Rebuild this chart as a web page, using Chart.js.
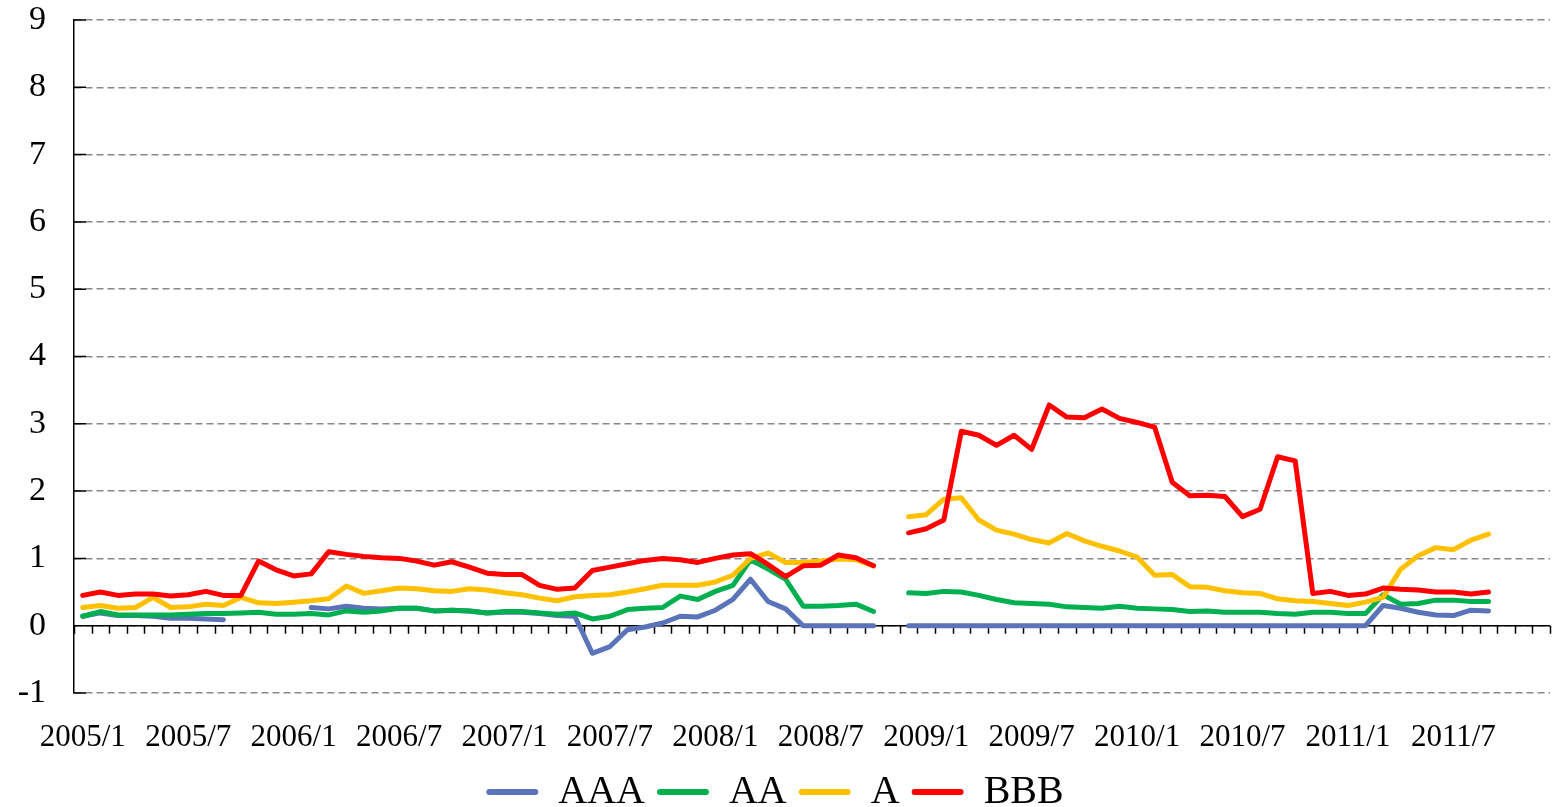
<!DOCTYPE html>
<html>
<head>
<meta charset="utf-8">
<script src="https://cdn.jsdelivr.net/npm/chart.js@4.4.1/dist/chart.umd.min.js"></script>
<style>
  html, body { margin: 0; padding: 0; background: #fff; }
  #wrap { width: 1552px; height: 807px; position: relative; }
</style>
</head>
<body>
<div id="wrap"><canvas id="spreadChart"></canvas></div>
<script>
const years = [2005, 2006, 2007, 2008, 2009, 2010, 2011];
const months = [];
years.forEach((y) => {
  for (let m = 1; m <= 12; m++) months.push(y + "/" + m);
});

const tickLabels = [
  "2005/1", "2005/7", "2006/1", "2006/7", "2007/1", "2007/7", "2008/1",
  "2008/7", "2009/1", "2009/7", "2010/1", "2010/7", "2011/1", "2011/7",
];

const seriesNames = ["AAA", "AA", "A", "BBB"];

const aaa = [
  0.14, 0.19, 0.15, 0.15, 0.14, 0.11, 0.11, 0.10, 0.09, null, null, null,
  null, 0.27, 0.25, 0.29, 0.26, 0.25, 0.26, 0.26, 0.22, 0.23, 0.22, 0.19,
  0.20, 0.20, 0.18, 0.15, 0.14, -0.41, -0.31, -0.06, -0.02, 0.04, 0.14, 0.13,
  0.23, 0.39, 0.69, 0.36, 0.25, 0, 0, 0, 0, 0, null, 0,
  0, 0, 0, 0, 0, 0, 0, 0, 0, 0, 0, 0,
  0, 0, 0, 0, 0, 0, 0, 0, 0, 0, 0, 0,
  0, 0, 0.30, 0.26, 0.20, 0.16, 0.15, 0.23, 0.22, null, null, null,
];

const aa = [
  0.14, 0.21, 0.16, 0.16, 0.16, 0.16, 0.17, 0.18, 0.18, 0.19, 0.20, 0.17,
  0.17, 0.18, 0.16, 0.22, 0.20, 0.22, 0.26, 0.26, 0.22, 0.23, 0.22, 0.19,
  0.21, 0.21, 0.19, 0.17, 0.19, 0.10, 0.14, 0.24, 0.26, 0.27, 0.44, 0.39,
  0.51, 0.60, 0.98, 0.84, 0.69, 0.29, 0.29, 0.30, 0.32, 0.21, null, 0.49,
  0.48, 0.51, 0.50, 0.45, 0.39, 0.34, 0.33, 0.32, 0.28, 0.27, 0.26, 0.29,
  0.26, 0.25, 0.24, 0.21, 0.22, 0.20, 0.20, 0.20, 0.18, 0.17, 0.20, 0.20,
  0.18, 0.18, 0.46, 0.32, 0.33, 0.38, 0.38, 0.36, 0.36, null, null, null,
];

const a = [
  0.27, 0.30, 0.26, 0.27, 0.42, 0.27, 0.28, 0.32, 0.30, 0.42, 0.34, 0.33,
  0.35, 0.37, 0.40, 0.59, 0.48, 0.52, 0.56, 0.55, 0.52, 0.51, 0.55, 0.53,
  0.49, 0.46, 0.41, 0.37, 0.43, 0.45, 0.46, 0.50, 0.55, 0.60, 0.60, 0.60,
  0.65, 0.75, 1.00, 1.08, 0.94, 0.94, 0.96, 0.99, 0.98, 0.89, null, 1.62,
  1.65, 1.88, 1.90, 1.57, 1.42, 1.36, 1.28, 1.23, 1.37, 1.26, 1.18, 1.11,
  1.02, 0.75, 0.76, 0.58, 0.57, 0.52, 0.49, 0.48, 0.40, 0.37, 0.36, 0.33,
  0.30, 0.35, 0.42, 0.84, 1.04, 1.16, 1.13, 1.27, 1.36, null, null, null,
];

const bbb = [
  0.45, 0.50, 0.45, 0.47, 0.47, 0.44, 0.46, 0.51, 0.45, 0.45, 0.96, 0.83,
  0.74, 0.77, 1.10, 1.06, 1.03, 1.01, 1.00, 0.96, 0.90, 0.95, 0.87, 0.78,
  0.76, 0.76, 0.60, 0.54, 0.56, 0.82, 0.87, 0.92, 0.97, 1.00, 0.98, 0.94,
  1.00, 1.05, 1.07, 0.91, 0.73, 0.89, 0.90, 1.05, 1.01, 0.89, null, 1.38,
  1.44, 1.57, 2.89, 2.83, 2.68, 2.83, 2.62, 3.28, 3.10, 3.09, 3.22, 3.08,
  3.02, 2.95, 2.13, 1.93, 1.94, 1.92, 1.62, 1.73, 2.51, 2.45, 0.48, 0.51,
  0.45, 0.47, 0.56, 0.54, 0.53, 0.50, 0.50, 0.47, 0.50, null, null, null,
];

const colors = ["#5b73b8", "#00b050", "#ffc000", "#ff0000"];

// Excel style: axis line at zero with small tick marks between months,
// plus short inside ticks on the value axis
const zeroAxis = {
  id: "zeroAxis",
  beforeDatasetsDraw(chart) {
    const { ctx, chartArea, scales } = chart;
    const y0 = scales.y.getPixelForValue(0);
    const first = scales.x.getPixelForValue(0);
    const step = scales.x.getPixelForValue(1) - first;
    ctx.save();
    ctx.strokeStyle = "#000";
    ctx.lineWidth = 1.5;
    ctx.beginPath();
    ctx.moveTo(chartArea.left, y0);
    ctx.lineTo(chartArea.right, y0);
    for (let i = 0; i <= months.length; i++) {
      const x = Math.round(first - step / 2 + i * step) + 0.5;
      ctx.moveTo(x, y0);
      ctx.lineTo(x, y0 + 8);
    }
    scales.y.ticks.forEach((t) => {
      const y = scales.y.getPixelForValue(t.value);
      ctx.moveTo(chartArea.left, y);
      ctx.lineTo(chartArea.left + 12, y);
    });
    ctx.stroke();
    ctx.restore();
  },
};

Chart.defaults.font.family = "'Liberation Serif', serif";
Chart.defaults.color = "#000";

const values = [aaa, aa, a, bbb];

new Chart(document.getElementById("spreadChart"), {
  type: "line",
  data: {
    labels: months,
    datasets: seriesNames.map((name, i) => ({
      label: name,
      data: values[i],
      borderColor: colors[i],
      backgroundColor: colors[i],
      borderWidth: 5,
      pointRadius: 0,
      tension: 0,
      spanGaps: false,
      borderJoinStyle: "round",
      borderCapStyle: "round",
      order: 4 - i,
    })),
  },
  options: {
    responsive: true,
    maintainAspectRatio: false,
    animation: false,
    layout: { padding: { top: 20, right: 2, left: 0, bottom: -15 } },
    plugins: {
      tooltip: { enabled: false },
      legend: {
        position: "bottom",
        labels: {
          boxWidth: 52,
          boxHeight: 6,
          padding: 12,
          color: "#000",
          font: { size: 40 },
          sort: (p, q) => p.datasetIndex - q.datasetIndex,
          generateLabels(chart) {
            return Chart.defaults.plugins.legend.labels
              .generateLabels(chart)
              .map((item) => ({
                ...item,
                fillStyle: item.strokeStyle,
                lineWidth: 0,
                borderRadius: 3,
              }));
          },
        },
      },
    },
    scales: {
      x: {
        offset: true,
        grid: { display: false, drawTicks: false },
        border: { display: false },
        ticks: {
          autoSkip: false,
          maxRotation: 0,
          padding: 26,
          font: { size: 31 },
          callback: (value, index) =>
            tickLabels.includes(months[index]) ? months[index] : "",
        },
        afterFit(scale) {
          scale.height = 129 - scale.chart.legend.height;
          scale.paddingLeft = 0;
          scale.paddingRight = 0;
        },
      },
      y: {
        min: -1,
        max: 9,
        ticks: { stepSize: 1, padding: 28, font: { size: 34 } },
        grid: { color: "#888", lineWidth: 1.5, drawTicks: false },
        border: { display: true, color: "#000", width: 1.5, dash: [7, 4] },
        afterFit(scale) {
          scale.width = 74;
          scale.paddingTop = 0;
          scale.paddingBottom = 0;
        },
      },
    },
  },
  plugins: [zeroAxis],
});
</script>
</body>
</html>
